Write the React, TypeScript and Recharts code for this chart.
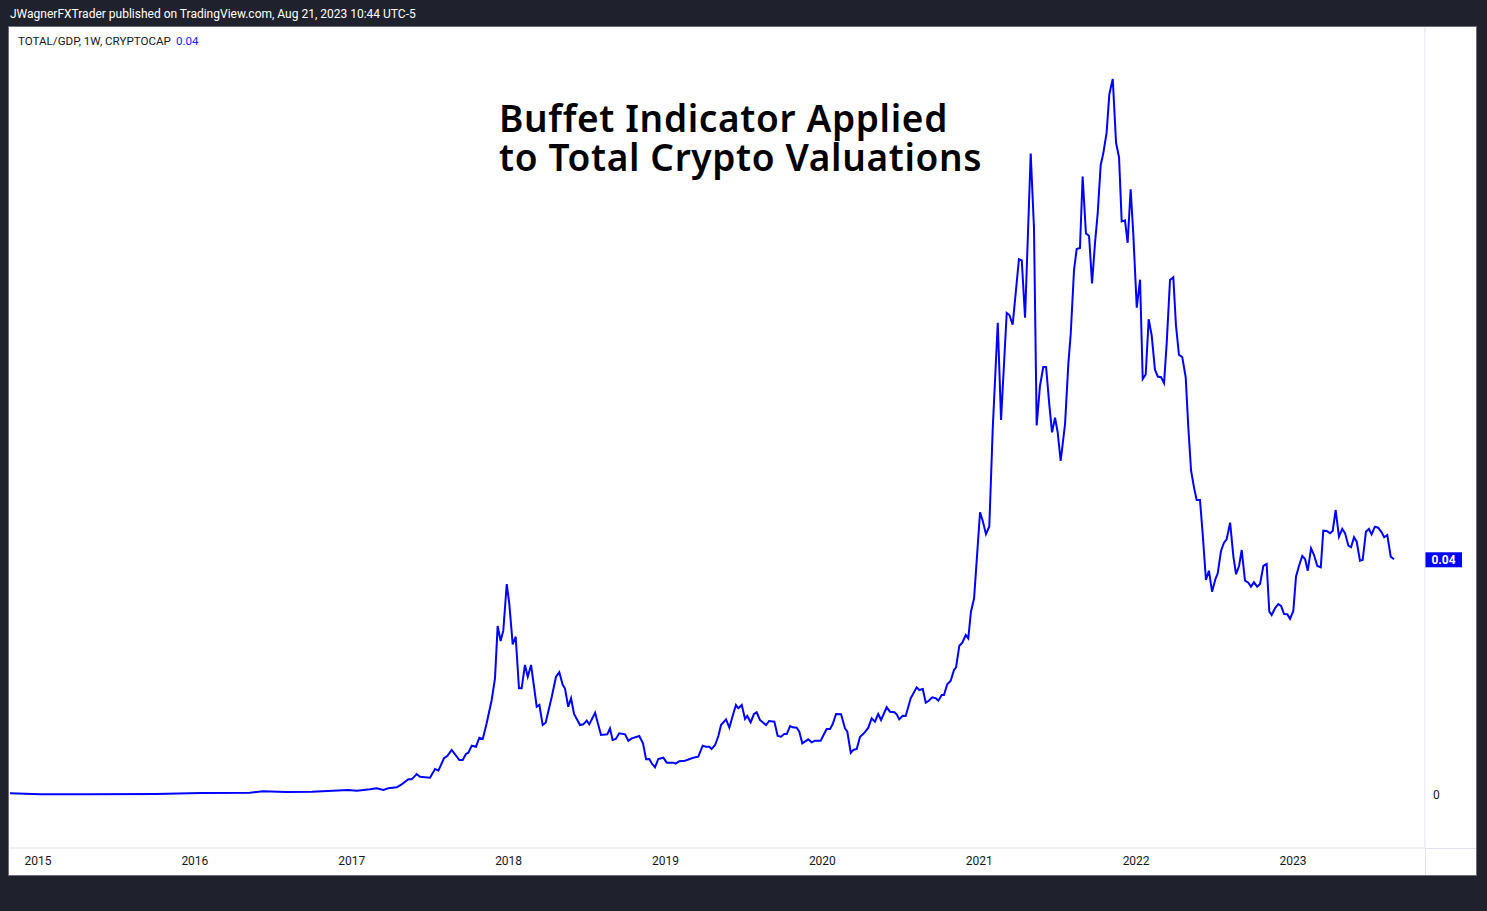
import React from 'react';
import { LineChart, Line, XAxis, YAxis, ReferenceLine } from 'recharts';

// [decimal year, TOTAL/GDP ratio]
const flat2015to2016: [number, number][] = [
  [2014.82, 0.00029], [2015.013, 0.00012], [2015.325, 0.00012], [2015.752, 0.00017],
  [2016.039, 0.00034], [2016.351, 0.00039], [2016.434, 0.00063], [2016.581, 0.00051],
  [2016.747, 0.00056], [2016.976, 0.00085], [2017.033, 0.00073],
];

const bull2017: [number, number][] = [
  [2017.116, 0.00097], [2017.159, 0.00114], [2017.201, 0.00085], [2017.233, 0.00114],
  [2017.287, 0.00131], [2017.318, 0.00182], [2017.361, 0.00267], [2017.382, 0.00267],
  [2017.414, 0.00357], [2017.435, 0.00311], [2017.499, 0.00294], [2017.531, 0.00443],
  [2017.552, 0.00414], [2017.588, 0.00625], [2017.609, 0.00664], [2017.637, 0.00766],
  [2017.686, 0.00596], [2017.707, 0.00596], [2017.728, 0.00698], [2017.743, 0.0072],
  [2017.765, 0.00839], [2017.792, 0.00822], [2017.813, 0.00975], [2017.835, 0.00953],
  [2017.86, 0.0122], [2017.892, 0.01617], [2017.913, 0.01986], [2017.93, 0.02877],
  [2017.949, 0.02621], [2017.966, 0.02797], [2017.988, 0.03591],
];

const bear2018: [number, number][] = [
  [2018.004, 0.03263], [2018.026, 0.02565], [2018.045, 0.02694], [2018.066, 0.01816],
  [2018.083, 0.01816], [2018.104, 0.02213], [2018.122, 0.02014], [2018.143, 0.02213],
  [2018.179, 0.01503], [2018.196, 0.01532], [2018.217, 0.01191], [2018.236, 0.01231],
  [2018.275, 0.01673], [2018.302, 0.02014], [2018.323, 0.02088], [2018.345, 0.01872],
  [2018.359, 0.01816], [2018.38, 0.01503], [2018.398, 0.01646], [2018.417, 0.01379],
  [2018.455, 0.01191], [2018.476, 0.01203], [2018.498, 0.01265], [2018.514, 0.01203],
  [2018.551, 0.01401], [2018.589, 0.01021], [2018.629, 0.01033], [2018.646, 0.01135],
  [2018.663, 0.00936], [2018.683, 0.00953], [2018.705, 0.0105], [2018.742, 0.01033],
  [2018.763, 0.00924], [2018.785, 0.00965], [2018.833, 0.01004], [2018.857, 0.00877],
  [2018.876, 0.00608], [2018.897, 0.00613], [2018.912, 0.0054], [2018.933, 0.00471],
  [2018.954, 0.00613], [2018.986, 0.00635],
];

const range2019: [number, number][] = [
  [2019.008, 0.0055], [2019.05, 0.0055], [2019.065, 0.00533], [2019.088, 0.00574],
  [2019.124, 0.00584], [2019.177, 0.00635], [2019.209, 0.00652], [2019.237, 0.00839],
  [2019.258, 0.00822], [2019.279, 0.00822], [2019.294, 0.00783], [2019.316, 0.00851],
  [2019.337, 0.01004], [2019.354, 0.01191], [2019.386, 0.01288], [2019.407, 0.01146],
  [2019.428, 0.01345], [2019.449, 0.01532], [2019.464, 0.01476], [2019.486, 0.01532],
  [2019.507, 0.01294], [2019.521, 0.01345], [2019.543, 0.01237], [2019.564, 0.01379],
  [2019.581, 0.01408], [2019.602, 0.01277], [2019.641, 0.01191], [2019.66, 0.0126],
  [2019.694, 0.01248], [2019.715, 0.01004], [2019.736, 0.00992], [2019.757, 0.01038],
  [2019.773, 0.01038], [2019.794, 0.01174], [2019.811, 0.01152], [2019.836, 0.01146],
  [2019.853, 0.01077], [2019.872, 0.0088], [2019.91, 0.00948], [2019.932, 0.00897],
  [2019.953, 0.00924], [2019.989, 0.00924],
];

const recovery2020: [number, number][] = [
  [2020.027, 0.01123], [2020.049, 0.01123], [2020.066, 0.01208], [2020.087, 0.01379],
  [2020.119, 0.01374], [2020.144, 0.01135], [2020.159, 0.01077], [2020.181, 0.0072],
  [2020.197, 0.00766], [2020.219, 0.00783], [2020.24, 0.00992], [2020.265, 0.0105],
  [2020.293, 0.01146], [2020.314, 0.01306], [2020.335, 0.01248], [2020.356, 0.01379],
  [2020.374, 0.01277], [2020.41, 0.01493], [2020.431, 0.01418], [2020.459, 0.01408],
  [2020.474, 0.01374], [2020.49, 0.01288], [2020.512, 0.0135], [2020.531, 0.01345],
  [2020.563, 0.01646], [2020.601, 0.01833], [2020.618, 0.01787], [2020.64, 0.01804],
  [2020.659, 0.01571], [2020.678, 0.01605], [2020.701, 0.01663], [2020.724, 0.01646],
  [2020.739, 0.01605], [2020.761, 0.01702], [2020.775, 0.01702], [2020.796, 0.01884],
  [2020.818, 0.01946], [2020.839, 0.02128], [2020.852, 0.02174], [2020.873, 0.02541],
  [2020.892, 0.02592], [2020.914, 0.02723], [2020.93, 0.02667], [2020.947, 0.0312],
  [2020.967, 0.03348],
];

const bull2021: [number, number][] = [
  [2021.005, 0.04812], [2021.022, 0.04667], [2021.043, 0.04439], [2021.064, 0.0457],
  [2021.086, 0.06238], [2021.118, 0.08039], [2021.139, 0.06383], [2021.175, 0.08204],
  [2021.192, 0.0817], [2021.213, 0.08007], [2021.253, 0.0912], [2021.271, 0.09099],
  [2021.292, 0.08124], [2021.328, 0.10919], [2021.349, 0.09642], [2021.366, 0.06291],
  [2021.387, 0.06962], [2021.408, 0.07285], [2021.426, 0.07285], [2021.447, 0.06631],
  [2021.464, 0.06173], [2021.483, 0.06422], [2021.5, 0.06173], [2021.519, 0.05685],
  [2021.547, 0.06318], [2021.568, 0.07346], [2021.583, 0.07847], [2021.604, 0.08931],
  [2021.621, 0.09293], [2021.642, 0.0931], [2021.659, 0.10526], [2021.68, 0.09559],
  [2021.7, 0.09516], [2021.719, 0.08708], [2021.738, 0.09399], [2021.755, 0.09899],
  [2021.774, 0.1072], [2021.791, 0.10926], [2021.812, 0.11278], [2021.829, 0.11923],
  [2021.851, 0.12187], [2021.872, 0.11101], [2021.891, 0.10856], [2021.908, 0.09763],
  [2021.929, 0.09782], [2021.946, 0.09399], [2021.965, 0.1031], [2021.982, 0.09547],
];

const bear2022: [number, number][] = [
  [2022.004, 0.08296], [2022.025, 0.08771], [2022.042, 0.07081], [2022.061, 0.07157],
  [2022.08, 0.08097], [2022.099, 0.07826], [2022.12, 0.07239], [2022.138, 0.07122],
  [2022.159, 0.07111], [2022.178, 0.07011], [2022.195, 0.07697], [2022.216, 0.08766],
  [2022.237, 0.08813], [2022.254, 0.07991], [2022.273, 0.07493], [2022.294, 0.07452],
  [2022.316, 0.07111], [2022.332, 0.06289], [2022.35, 0.05527], [2022.369, 0.05232],
  [2022.386, 0.05021], [2022.407, 0.05021], [2022.424, 0.04454], [2022.445, 0.0366],
  [2022.464, 0.03818], [2022.484, 0.0346], [2022.505, 0.03671], [2022.52, 0.03774],
  [2022.541, 0.04153], [2022.56, 0.04294], [2022.577, 0.04352], [2022.599, 0.04635],
  [2022.62, 0.04056], [2022.637, 0.03757], [2022.656, 0.03898], [2022.673, 0.0417],
  [2022.694, 0.03648], [2022.715, 0.03614], [2022.732, 0.03546], [2022.751, 0.0362],
  [2022.772, 0.03546], [2022.79, 0.03591], [2022.811, 0.03898], [2022.832, 0.03932],
  [2022.849, 0.0312], [2022.864, 0.03064], [2022.885, 0.03178], [2022.906, 0.03251],
  [2022.924, 0.03217], [2022.943, 0.03081], [2022.964, 0.03076], [2022.981, 0.02996],
];

const range2023: [number, number][] = [
  [2023.002, 0.03132], [2023.019, 0.03716], [2023.038, 0.03898], [2023.059, 0.04068],
  [2023.077, 0.04017], [2023.094, 0.03818], [2023.115, 0.04199], [2023.134, 0.04085],
  [2023.155, 0.03898], [2023.177, 0.03876], [2023.193, 0.04499], [2023.215, 0.04494],
  [2023.236, 0.04454], [2023.253, 0.04494], [2023.272, 0.04851], [2023.293, 0.04397],
  [2023.314, 0.04528], [2023.332, 0.04454], [2023.353, 0.04243], [2023.37, 0.04216],
  [2023.389, 0.04386], [2023.406, 0.04311], [2023.427, 0.03988], [2023.444, 0.04],
  [2023.465, 0.04482], [2023.484, 0.04528], [2023.501, 0.04437], [2023.522, 0.04567],
  [2023.543, 0.0455], [2023.565, 0.04471], [2023.581, 0.04386], [2023.601, 0.04425],
  [2023.623, 0.04056], [2023.644, 0.04012],
];

const yearTicks = [2015, 2016, 2017, 2018, 2019, 2020, 2021, 2022, 2023];
const priceTicks = [0];
const xDomain: [number, number] = [2014.8215, 2023.8414];
const yDomain: [number, number] = [-0.00902, 0.13072];

const headerText = 'JWagnerFXTrader published on TradingView.com, Aug 21, 2023 10:44 UTC-5';
const legendText = 'TOTAL/GDP, 1W, CRYPTOCAP';
const titleLines = ['Buffet Indicator Applied', 'to Total Crypto Valuations'];

const data = [
  ...flat2015to2016, ...bull2017, ...bear2018, ...range2019,
  ...recovery2020, ...bull2021, ...bear2022, ...range2023,
].map(([t, v]) => ({ t, v }));

const last = data[data.length - 1];
const lastLabel = last.v.toFixed(2);

const LINE = '#0000ff';
const FONT = 'Roboto, "Noto Sans", sans-serif';
const TITLE_FONT = '"Noto Sans", sans-serif';

function PriceTag(props: any) {
  const vb = props.viewBox || {};
  const x = (vb.x || 0) + (vb.width || 0);
  const y = vb.y || 0;
  return (
    <g>
      <rect x={x} y={y - 7} width={37} height={15} fill={LINE} />
      <text x={x + 18.5} y={y + 0.5} dy="0.36em" textAnchor="middle" fill="#ffffff" fontSize={12} fontWeight={700} fontFamily={FONT}>
        {lastLabel}
      </text>
    </g>
  );
}

export default function App() {
  return (
    <div style={{ position: 'fixed', left: 0, top: 0, width: 1487, height: 911, background: '#1f222c', fontFamily: FONT, overflow: 'hidden' }}>
      <div style={{ position: 'absolute', left: 9, top: 27, width: 1467, height: 848, background: '#ffffff', boxShadow: '0 0 0 1px #6b6e78' }}>
        <div style={{ position: 'absolute', left: 1, top: 0 }}>
          <LineChart width={1466} height={848} data={data} margin={{ top: 0, right: 0, bottom: 0, left: 0 }}>
            <XAxis
              dataKey="t"
              type="number"
              domain={xDomain}
              allowDataOverflow
              ticks={yearTicks}
              tickFormatter={(v: number) => String(v)}
              height={27}
              axisLine={{ stroke: '#e0e3eb' }}
              tickLine={false}
              tick={{ fill: '#131722', fontSize: 12, fontFamily: FONT }}
            />
            <YAxis
              orientation="right"
              type="number"
              domain={yDomain}
              allowDataOverflow
              ticks={priceTicks}
              width={51}
              axisLine={{ stroke: '#e0e3eb' }}
              tickLine={false}
              tick={{ fill: '#131722', fontSize: 12, fontFamily: FONT }}
            />
            <ReferenceLine y={last.v} stroke="none" label={<PriceTag />} ifOverflow="visible" />
            <Line type="linear" dataKey="v" stroke={LINE} strokeWidth={2} dot={false} isAnimationActive={false} />
          </LineChart>
        </div>
        <div style={{ position: 'absolute', left: 1416, top: 821, width: 51, height: 1, background: '#e0e3eb' }} />
        <div style={{ position: 'absolute', left: 1416, top: 821, width: 1, height: 27, background: '#e0e3eb' }} />
      </div>
      <svg width={1487} height={911} style={{ position: 'absolute', left: 0, top: 0, pointerEvents: 'none' }}>
        <text x={10} y={18} fill="#ffffff" fontSize={12} fontFamily={FONT}>{headerText}</text>
        <text x={18} y={45} fill="#131722" fontSize={11.6} fontFamily={FONT}>
          {legendText}
          <tspan dx={5} fill="#1c1cff">{lastLabel}</tspan>
        </text>
        <text x={499} y={132} fill="#000000" fontSize={37} fontWeight={600} letterSpacing={0.65} fontFamily={TITLE_FONT}>{titleLines[0]}</text>
        <text x={499} y={171} fill="#000000" fontSize={37} fontWeight={600} letterSpacing={0.65} fontFamily={TITLE_FONT}>{titleLines[1]}</text>
      </svg>
    </div>
  );
}
